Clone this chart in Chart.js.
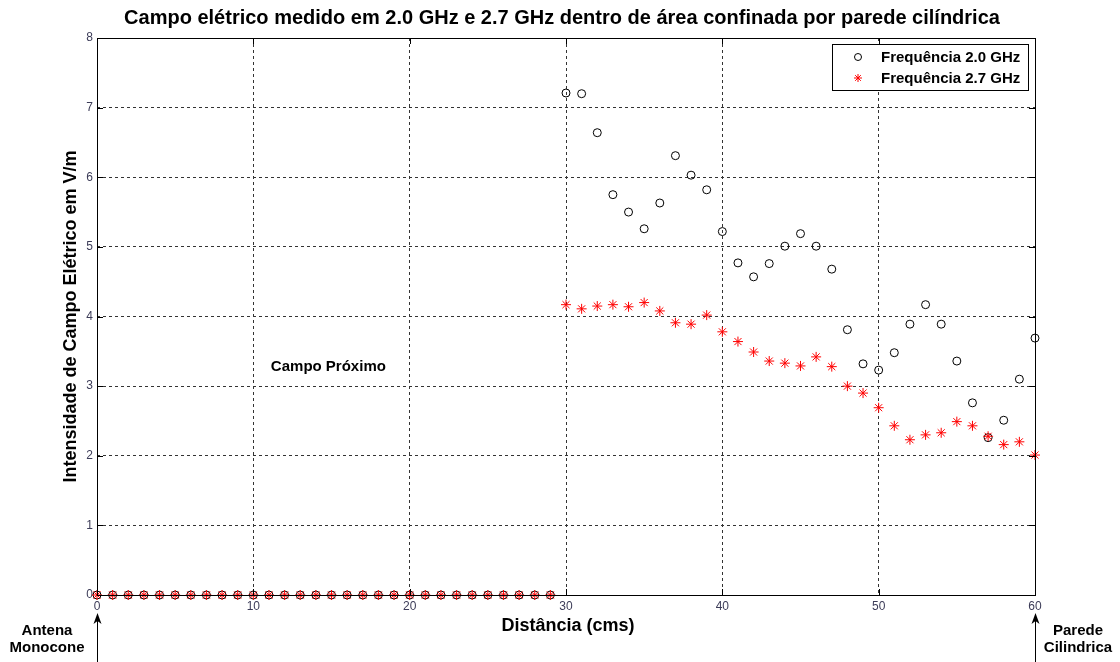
<!DOCTYPE html>
<html>
<head>
<meta charset="utf-8">
<title>Campo elétrico</title>
<script src="https://cdn.jsdelivr.net/npm/chart.js@4.4.1/dist/chart.umd.min.js"></script>
<style>
  html, body { margin: 0; padding: 0; background: #fff; }
  #wrap { width: 1120px; height: 662px; }
</style>
</head>
<body>
<div id="wrap"><canvas id="campo"></canvas></div>
<script>
// distance from the antenna, cm
const distancia = [0, 1, 2, 3, 4, 5, 6, 7, 8, 9, 10, 11, 12, 13, 14, 15, 16, 17, 18, 19,
  20, 21, 22, 23, 24, 25, 26, 27, 28, 29, 30, 31, 32, 33, 34, 35, 36, 37, 38, 39,
  40, 41, 42, 43, 44, 45, 46, 47, 48, 49, 50, 51, 52, 53, 54, 55, 56, 57, 58, 59, 60];

// field strength, V/m (near-field points recorded as 0)
const campo20 = [0, 0, 0, 0, 0, 0, 0, 0, 0, 0, 0, 0, 0, 0, 0, 0, 0, 0, 0, 0,
  0, 0, 0, 0, 0, 0, 0, 0, 0, 0,
  7.21, 7.20, 6.64, 5.75, 5.50, 5.26, 5.63, 6.31, 6.03, 5.82,
  5.22, 4.77, 4.57, 4.76, 5.01, 5.19, 5.01, 4.68, 3.81, 3.32,
  3.23, 3.48, 3.89, 4.17, 3.89, 3.36, 2.76, 2.26, 2.51, 3.10, 3.69];

const campo27 = [0, 0, 0, 0, 0, 0, 0, 0, 0, 0, 0, 0, 0, 0, 0, 0, 0, 0, 0, 0,
  0, 0, 0, 0, 0, 0, 0, 0, 0, 0,
  4.17, 4.11, 4.15, 4.17, 4.14, 4.20, 4.08, 3.91, 3.89, 4.02,
  3.78, 3.64, 3.49, 3.36, 3.33, 3.29, 3.42, 3.28, 3.00, 2.90,
  2.69, 2.43, 2.23, 2.30, 2.33, 2.49, 2.43, 2.28, 2.16, 2.20, 2.01];

const xTicks = [0, 10, 20, 30, 40, 50, 60];
const yTicks = [0, 1, 2, 3, 4, 5, 6, 7, 8];

const FONT = '"Liberation Sans", Arial, sans-serif';
const TICK_COLOR = '#3c3c58';

function pontos(ys) {
  return distancia.map((d, i) => ({ x: d, y: ys[i] }));
}

// frame, inner ticks, titles, legend and the text notes
const moldura = {
  id: 'moldura',
  beforeDraw(chart) {
    const ctx = chart.ctx;
    ctx.save();
    ctx.fillStyle = '#fff';
    ctx.fillRect(0, 0, chart.width, chart.height);
    ctx.restore();
  },
  afterDraw(chart) {
    const ctx = chart.ctx;
    const a = chart.chartArea;
    const sx = chart.scales.x, sy = chart.scales.y;
    ctx.save();

    // box
    ctx.strokeStyle = '#000';
    ctx.lineWidth = 1;
    ctx.setLineDash([]);
    ctx.strokeRect(Math.round(a.left) + 0.5, Math.round(a.top) + 0.5,
      Math.round(a.right - a.left), Math.round(a.bottom - a.top));

    // ticks pointing inward on every side
    const t = 6;
    ctx.beginPath();
    xTicks.forEach(v => {
      const px = Math.round(sx.getPixelForValue(v)) + 0.5;
      ctx.moveTo(px, a.bottom); ctx.lineTo(px, a.bottom - t);
      ctx.moveTo(px, a.top); ctx.lineTo(px, a.top + t);
    });
    yTicks.forEach(v => {
      const py = Math.round(sy.getPixelForValue(v)) + 0.5;
      ctx.moveTo(a.left, py); ctx.lineTo(a.left + t, py);
      ctx.moveTo(a.right, py); ctx.lineTo(a.right - t, py);
    });
    ctx.stroke();

    // titles
    ctx.fillStyle = '#000';
    ctx.textAlign = 'center';
    ctx.textBaseline = 'middle';
    ctx.font = 'bold 20px ' + FONT;
    ctx.fillText('Campo elétrico medido em 2.0 GHz e 2.7 GHz dentro de área confinada por parede cilíndrica', 562, 18);

    ctx.font = 'bold 18px ' + FONT;
    ctx.fillText('Distância (cms)', (a.left + a.right) / 2 + 2, 626);
    ctx.save();
    ctx.translate(71, (a.top + a.bottom) / 2);
    ctx.rotate(-Math.PI / 2);
    ctx.fillText('Intensidade de Campo Elétrico em V/m', 0, 0);
    ctx.restore();

    // region note
    ctx.font = 'bold 15px ' + FONT;
    ctx.fillText('Campo Próximo', sx.getPixelForValue(14.8), sy.getPixelForValue(3.28));

    // antenna and wall markers below the axis
    ctx.fillText('Antena', 47, 631);
    ctx.fillText('Monocone', 47, 648);
    ctx.fillText('Parede', 1078, 631);
    ctx.fillText('Cilindrica', 1078, 648);

    [0, 60].forEach(v => {
      const px = Math.round(sx.getPixelForValue(v)) + 0.5;
      ctx.beginPath();
      ctx.moveTo(px, 620);
      ctx.lineTo(px, 662);
      ctx.stroke();
      ctx.beginPath();
      ctx.moveTo(px, 613);
      ctx.lineTo(px - 4, 624);
      ctx.lineTo(px, 621);
      ctx.lineTo(px + 4, 624);
      ctx.closePath();
      ctx.fill();
    });

    // legend
    const lx = 832.5, ly = 44.5, lw = 196, lh = 46;
    ctx.fillStyle = '#fff';
    ctx.fillRect(lx, ly, lw, lh);
    ctx.strokeStyle = '#000';
    ctx.strokeRect(lx, ly, lw, lh);
    ctx.font = 'bold 15px ' + FONT;
    ctx.textAlign = 'left';
    chart.data.datasets.forEach((ds, i) => {
      const cy = 57 + i * 21;
      ctx.strokeStyle = ds.borderColor;
      ctx.fillStyle = ds.backgroundColor;
      ctx.lineWidth = ds.borderWidth;
      Chart.helpers.drawPoint(ctx, {
        pointStyle: ds.pointStyle,
        radius: ds.pointStyle === 'circle' ? 3.5 : 4,
        rotation: 0,
        borderWidth: ds.borderWidth
      }, 858, cy);
      ctx.fillStyle = '#000';
      ctx.fillText(ds.label, 881, cy + 1);
    });

    ctx.restore();
  }
};

new Chart(document.getElementById('campo'), {
  type: 'scatter',
  data: {
    datasets: [
      {
        label: 'Frequência 2.0 GHz',
        data: pontos(campo20),
        pointStyle: 'circle',
        pointRadius: 4,
        borderColor: '#000',
        backgroundColor: 'rgba(0,0,0,0)',
        borderWidth: 1,
        order: 2,
        clip: false
      },
      {
        label: 'Frequência 2.7 GHz',
        data: pontos(campo27),
        pointStyle: 'star',
        pointRadius: 5,
        borderColor: '#ff0000',
        backgroundColor: '#ff0000',
        borderWidth: 1,
        order: 1,
        clip: false
      }
    ]
  },
  options: {
    responsive: true,
    maintainAspectRatio: false,
    animation: false,
    devicePixelRatio: 1,
    layout: { padding: { top: 38, right: 85, left: 0, bottom: 0 } },
    plugins: {
      legend: { display: false },
      title: { display: false },
      tooltip: { enabled: false }
    },
    scales: {
      x: {
        type: 'linear',
        min: 0,
        max: 60,
        afterFit(s) { s.height = 67; },
        afterBuildTicks(s) { s.ticks = xTicks.map(v => ({ value: v })); },
        ticks: { color: TICK_COLOR, font: { family: FONT, size: 12 }, padding: 4, maxRotation: 0 },
        grid: { color: '#333', lineWidth: 1, drawTicks: false },
        border: { display: false, dash: [3, 3] }
      },
      y: {
        min: 0,
        max: 8,
        afterFit(s) { s.width = 97; },
        afterBuildTicks(s) { s.ticks = yTicks.map(v => ({ value: v })); },
        ticks: { color: TICK_COLOR, font: { family: FONT, size: 12 }, padding: 4 },
        grid: { color: '#333', lineWidth: 1, drawTicks: false },
        border: { display: false, dash: [3, 3] }
      }
    }
  },
  plugins: [moldura]
});
</script>
</body>
</html>
